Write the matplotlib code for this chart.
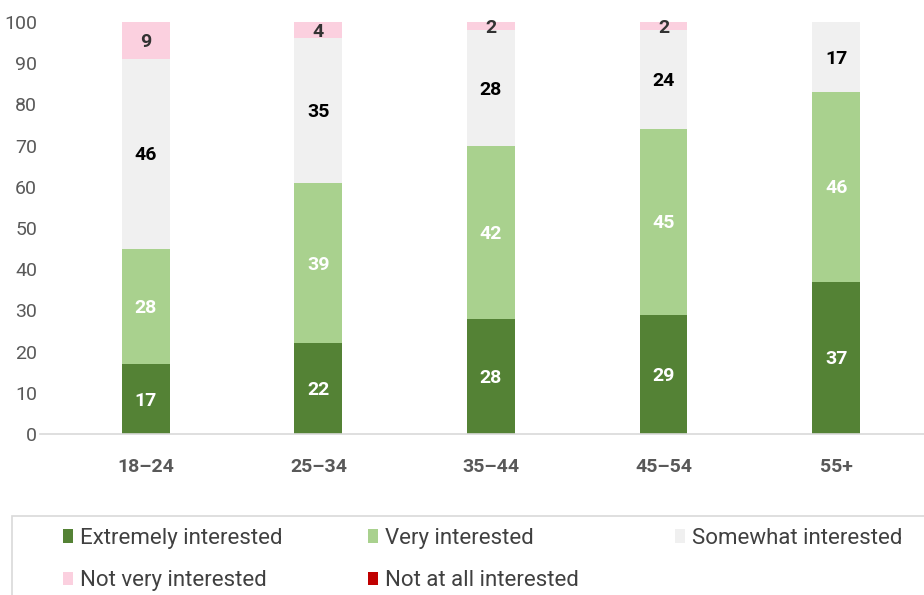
import matplotlib
matplotlib.use("Agg")
import matplotlib.pyplot as plt
from matplotlib.patches import Rectangle, Patch
import numpy as np

plt.rcParams['font.family'] = ['Roboto', 'DejaVu Sans']

categories = ["18–24", "25–34", "35–44", "45–54", "55+"]
series_names = ["Extremely interested", "Very interested", "Somewhat interested",
                "Not very interested", "Not at all interested"]
extremely = [17, 22, 28, 29, 37]
very = [28, 39, 42, 45, 46]
somewhat = [46, 35, 28, 24, 17]
not_very = [9, 4, 2, 2, 0]
not_at_all = [0, 0, 0, 0, 0]
yticks = [0, 10, 20, 30, 40, 50, 60, 70, 80, 90, 100]

colors = ["#548235", "#A9D18E", "#F0F0F0", "#FBD0DF", "#C00000"]
label_colors = ["white", "white", "black", "#333333", "black"]

fig = plt.figure(figsize=(9.24, 5.95), dpi=100)
ax = fig.add_axes([40/924, 161/595, 1 - 40/924, (434-22)/595])

x = np.arange(len(categories))
width = 0.277
bottom = np.zeros(len(categories))
all_series = [extremely, very, somewhat, not_very, not_at_all]
handles = []
for vals, c, lc, name in zip(all_series, colors, label_colors, series_names):
    vals = np.array(vals, dtype=float)
    ax.bar(x, vals, width, bottom=bottom, color=c, label=name)
    for xi, v, b in zip(x, vals, bottom):
        if v > 0:
            ax.text(xi, b + v/2 - 0.4, f"{int(v)}", ha="center", va="center",
                    color=lc, fontsize=14, fontweight="bold")
    bottom += vals
    handles.append(Patch(facecolor=c, label=name))

ax.set_xlim(-0.613, 4.509)
ax.set_ylim(0, 100)
ax.set_yticks(yticks)
ax.set_xticks(x)
ax.set_xticklabels(categories, fontsize=14, fontweight="bold", color="#595959")
ax.tick_params(axis="y", length=0, labelsize=14, labelcolor="#595959", pad=2)
ax.tick_params(axis="x", length=0, pad=17)
for s in ["top", "right", "left"]:
    ax.spines[s].set_visible(False)
ax.spines["bottom"].set_color("#D9D9D9")
ax.spines["bottom"].set_linewidth(1.2)

# legend frame
fig.patches.append(Rectangle((12/924, -0.1), 1.0, 1 - 516/595 + 0.1,
                             transform=fig.transFigure, fill=False,
                             edgecolor="#D9D9D9", linewidth=1.2))

columns = [[0, 3], [1, 4], [2]]
col_x = [63, 368, 675]
for idxs, cx in zip(columns, col_x):
    leg = fig.legend([handles[i] for i in idxs], [series_names[i] for i in idxs],
                     loc="upper left", bbox_to_anchor=(cx/924, 1 - 528/595),
                     frameon=False, fontsize=16,
                     handlelength=0.45, handleheight=0.55, handletextpad=0.3,
                     labelspacing=0.95, borderaxespad=0, borderpad=0)
    for t in leg.get_texts():
        t.set_color("#404040")

fig.savefig("out.png", dpi=100)
